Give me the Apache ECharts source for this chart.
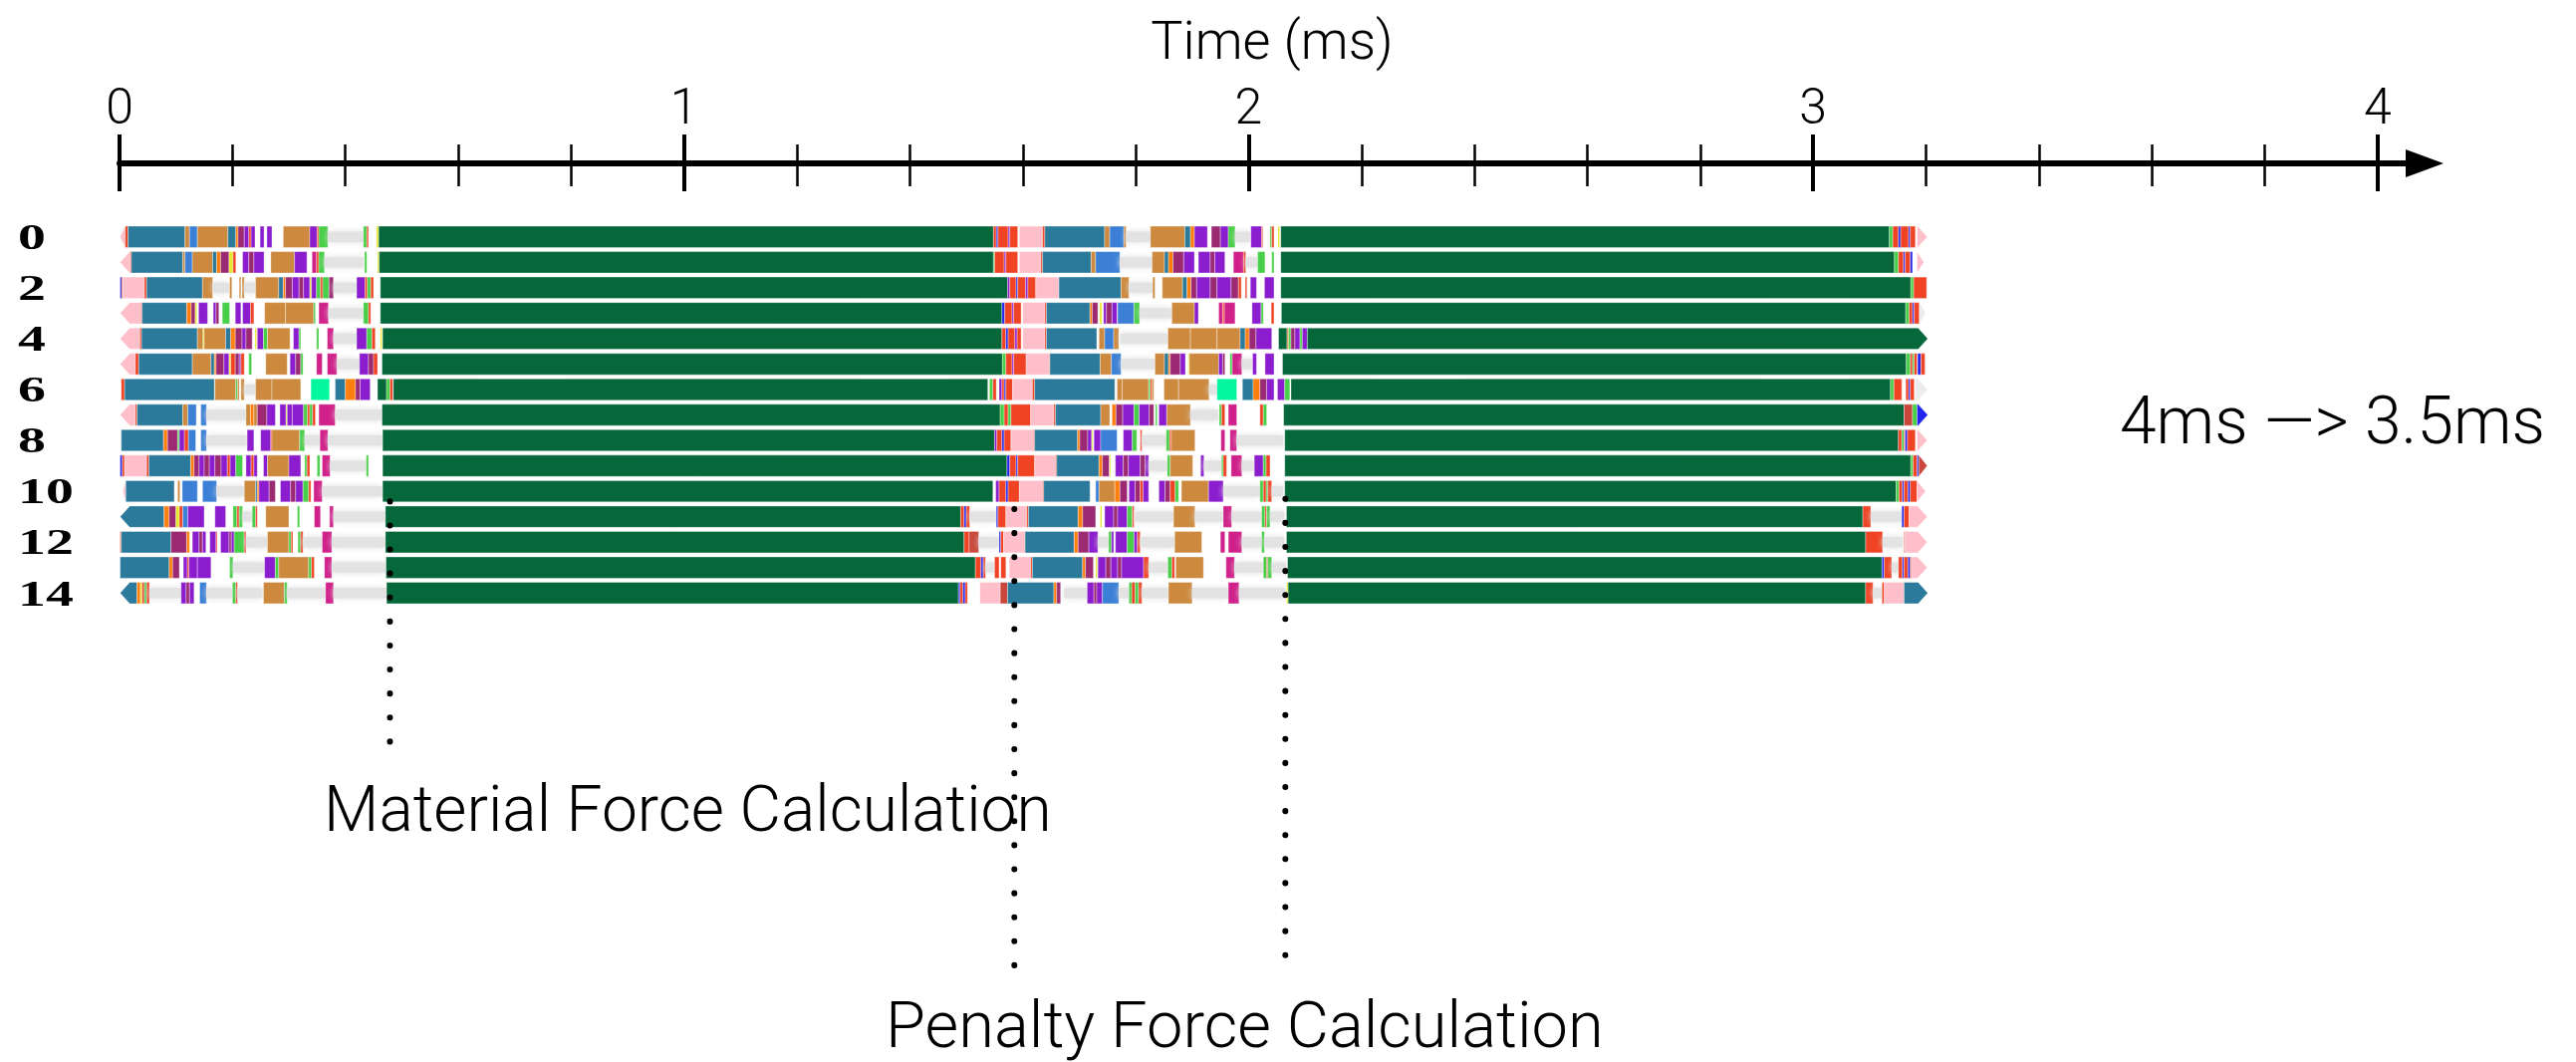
<!DOCTYPE html>
<html>
<head>
<meta charset="utf-8">
<script src="https://cdn.jsdelivr.net/npm/echarts@6.0.0/dist/echarts.min.js"></script>
<style>
  html, body { margin: 0; padding: 0; background: #fff; }
  #chart { width: 2586px; height: 1066px; }
</style>
</head>
<body>
<div id="chart"></div>
<script>
// trace of 15 threads, one array per thread: [start ms, end ms, kind]
// kinds: G main task, S steelblue, T tan, P purple, M plum, K pink, R red, L light blue,
// E lime, O orange, Y yellow, B blue, N mint, A magenta, D dark red, I idle, H faded
const row0 = [[0.001,0.010,'K'],[0.010,0.015,'R'],[0.015,0.116,'S'],[0.116,0.124,'T'],[0.124,0.138,'L'],[0.138,0.192,'T'],[0.192,0.206,'S'],[0.206,0.210,'O'],[0.210,0.221,'M'],[0.221,0.229,'P'],[0.229,0.233,'R'],[0.233,0.240,'P'],[0.249,0.256,'P'],[0.261,0.270,'P'],[0.290,0.337,'T'],[0.337,0.350,'P'],[0.350,0.353,'R'],[0.353,0.369,'E'],[0.369,0.432,'I'],[0.432,0.438,'E'],[0.438,0.441,'R'],[0.455,0.459,'Y'],[0.459,1.548,'G'],[1.548,1.553,'R'],[1.553,1.556,'B'],[1.556,1.574,'R'],[1.574,1.577,'P'],[1.577,1.591,'R'],[1.594,1.635,'K'],[1.635,1.639,'R'],[1.639,1.745,'S'],[1.745,1.754,'T'],[1.754,1.779,'L'],[1.779,1.783,'T'],[1.783,1.826,'I'],[1.826,1.887,'T'],[1.887,1.897,'S'],[1.897,1.904,'O'],[1.904,1.927,'P'],[1.934,1.950,'M'],[1.950,1.964,'P'],[1.964,1.976,'E'],[1.976,2.002,'I'],[2.004,2.023,'P'],[2.023,2.025,'R'],[2.038,2.041,'E'],[2.041,2.045,'R'],[2.052,2.055,'Y'],[2.057,3.135,'G'],[3.135,3.141,'E'],[3.141,3.151,'R'],[3.151,3.155,'B'],[3.155,3.169,'R'],[3.169,3.172,'B'],[3.172,3.181,'R'],[3.184,3.202,'K']];
const row1 = [[0.001,0.019,'K'],[0.019,0.021,'R'],[0.021,0.112,'S'],[0.112,0.116,'T'],[0.116,0.129,'L'],[0.129,0.165,'T'],[0.165,0.172,'S'],[0.172,0.179,'O'],[0.179,0.194,'M'],[0.194,0.201,'Y'],[0.201,0.206,'R'],[0.218,0.229,'P'],[0.229,0.238,'M'],[0.238,0.256,'P'],[0.268,0.310,'T'],[0.310,0.332,'P'],[0.341,0.349,'A'],[0.349,0.353,'R'],[0.353,0.363,'E'],[0.363,0.432,'I'],[0.434,0.438,'E'],[0.457,0.460,'Y'],[0.460,1.548,'G'],[1.548,1.550,'E'],[1.550,1.567,'R'],[1.567,1.570,'P'],[1.570,1.591,'R'],[1.594,1.632,'K'],[1.632,1.635,'R'],[1.635,1.721,'S'],[1.721,1.729,'T'],[1.729,1.772,'L'],[1.772,1.829,'I'],[1.829,1.851,'T'],[1.851,1.858,'S'],[1.858,1.866,'O'],[1.866,1.885,'M'],[1.885,1.904,'P'],[1.911,1.932,'P'],[1.932,1.940,'M'],[1.940,1.958,'P'],[1.973,1.991,'A'],[1.991,1.995,'R'],[1.995,2.016,'I'],[2.016,2.029,'E'],[2.041,2.045,'E'],[2.057,3.144,'G'],[3.144,3.151,'E'],[3.151,3.160,'R'],[3.160,3.163,'B'],[3.163,3.172,'R'],[3.172,3.176,'B'],[3.184,3.196,'K']];
const row2 = [[0.001,0.004,'B'],[0.004,0.006,'R'],[0.006,0.044,'K'],[0.044,0.048,'R'],[0.048,0.147,'S'],[0.147,0.165,'T'],[0.165,0.194,'I'],[0.195,0.199,'T'],[0.212,0.215,'T'],[0.217,0.221,'T'],[0.221,0.241,'I'],[0.241,0.282,'T'],[0.282,0.290,'S'],[0.290,0.294,'O'],[0.294,0.306,'M'],[0.306,0.318,'P'],[0.318,0.326,'M'],[0.326,0.337,'P'],[0.337,0.340,'Y'],[0.340,0.349,'P'],[0.349,0.356,'E'],[0.356,0.360,'R'],[0.360,0.371,'E'],[0.371,0.379,'M'],[0.379,0.420,'I'],[0.420,0.435,'P'],[0.435,0.439,'R'],[0.439,0.445,'E'],[0.445,0.450,'R'],[0.462,1.573,'G'],[1.573,1.577,'P'],[1.577,1.588,'R'],[1.588,1.591,'B'],[1.591,1.605,'R'],[1.605,1.609,'P'],[1.609,1.623,'R'],[1.623,1.664,'K'],[1.664,1.774,'S'],[1.774,1.788,'T'],[1.788,1.830,'I'],[1.830,1.834,'T'],[1.847,1.883,'T'],[1.883,1.891,'S'],[1.891,1.898,'O'],[1.898,1.908,'M'],[1.908,1.932,'P'],[1.932,1.944,'M'],[1.944,1.969,'P'],[1.969,1.982,'M'],[1.982,1.987,'R'],[1.994,1.997,'R'],[2.003,2.014,'P'],[2.028,2.045,'P'],[2.057,3.173,'G'],[3.173,3.178,'E'],[3.178,3.201,'R']];
const row3 = [[0.001,0.038,'K'],[0.038,0.040,'R'],[0.040,0.119,'S'],[0.119,0.127,'O'],[0.127,0.134,'M'],[0.134,0.137,'Y'],[0.140,0.156,'P'],[0.166,0.171,'P'],[0.171,0.176,'M'],[0.182,0.195,'E'],[0.205,0.215,'P'],[0.218,0.232,'P'],[0.232,0.238,'R'],[0.257,0.294,'T'],[0.294,0.344,'T'],[0.344,0.347,'E'],[0.353,0.370,'A'],[0.370,0.432,'I'],[0.432,0.441,'E'],[0.441,0.445,'R'],[0.462,1.563,'G'],[1.563,1.568,'B'],[1.568,1.581,'R'],[1.581,1.584,'P'],[1.584,1.597,'R'],[1.600,1.639,'K'],[1.639,1.642,'R'],[1.642,1.719,'S'],[1.719,1.723,'O'],[1.723,1.733,'M'],[1.736,1.740,'Y'],[1.743,1.748,'P'],[1.748,1.758,'M'],[1.758,1.767,'P'],[1.768,1.797,'L'],[1.797,1.807,'E'],[1.807,1.864,'I'],[1.864,1.904,'T'],[1.904,1.911,'P'],[1.947,1.954,'A'],[1.954,1.957,'R'],[1.957,1.976,'A'],[2.006,2.022,'P'],[2.022,2.026,'E'],[2.040,2.045,'R'],[2.058,3.164,'G'],[3.164,3.170,'E'],[3.170,3.176,'R'],[3.176,3.179,'B'],[3.179,3.188,'R'],[3.188,3.199,'H']];
const row4 = [[0.001,0.036,'K'],[0.036,0.039,'R'],[0.039,0.138,'S'],[0.138,0.148,'T'],[0.148,0.150,'Y'],[0.150,0.188,'T'],[0.188,0.197,'S'],[0.197,0.205,'O'],[0.205,0.217,'M'],[0.217,0.224,'P'],[0.224,0.235,'M'],[0.240,0.243,'Y'],[0.244,0.255,'P'],[0.255,0.262,'E'],[0.262,0.302,'T'],[0.308,0.318,'P'],[0.318,0.321,'E'],[0.349,0.353,'E'],[0.368,0.379,'A'],[0.379,0.420,'I'],[0.420,0.438,'P'],[0.438,0.447,'E'],[0.447,0.453,'R'],[0.462,0.465,'Y'],[0.466,1.563,'G'],[1.563,1.570,'R'],[1.570,1.574,'B'],[1.574,1.586,'R'],[1.586,1.590,'P'],[1.590,1.597,'R'],[1.600,1.639,'K'],[1.639,1.642,'R'],[1.642,1.731,'S'],[1.735,1.745,'T'],[1.745,1.761,'L'],[1.761,1.770,'T'],[1.773,1.857,'I'],[1.857,1.897,'T'],[1.897,1.944,'T'],[1.944,1.985,'T'],[1.985,1.994,'S'],[1.994,2.001,'O'],[2.001,2.013,'M'],[2.013,2.041,'P'],[2.053,2.068,'G'],[2.068,2.071,'T'],[2.071,2.075,'E'],[2.075,2.082,'M'],[2.082,2.091,'P'],[2.091,2.095,'E'],[2.095,2.104,'P'],[2.104,3.203,'G']];
const row5 = [[0.001,0.028,'K'],[0.028,0.034,'R'],[0.034,0.129,'S'],[0.129,0.162,'T'],[0.162,0.168,'S'],[0.168,0.171,'O'],[0.171,0.185,'M'],[0.185,0.194,'P'],[0.194,0.197,'Y'],[0.197,0.205,'R'],[0.205,0.212,'M'],[0.212,0.215,'P'],[0.215,0.221,'R'],[0.229,0.234,'E'],[0.259,0.297,'T'],[0.302,0.312,'P'],[0.312,0.321,'M'],[0.321,0.325,'E'],[0.349,0.359,'A'],[0.368,0.385,'A'],[0.385,0.425,'I'],[0.425,0.441,'P'],[0.441,0.450,'M'],[0.450,0.457,'R'],[0.465,1.564,'G'],[1.564,1.570,'E'],[1.570,1.581,'R'],[1.581,1.584,'P'],[1.584,1.606,'R'],[1.606,1.647,'K'],[1.647,1.648,'R'],[1.648,1.737,'S'],[1.737,1.757,'T'],[1.757,1.774,'L'],[1.774,1.834,'I'],[1.834,1.851,'T'],[1.851,1.858,'S'],[1.858,1.861,'O'],[1.861,1.879,'M'],[1.879,1.888,'P'],[1.893,1.895,'Y'],[1.895,1.947,'T'],[1.947,1.954,'P'],[1.954,1.958,'M'],[1.967,1.971,'E'],[1.971,1.988,'A'],[1.988,2.006,'I'],[2.007,2.014,'P'],[2.029,2.045,'P'],[2.060,3.165,'G'],[3.165,3.172,'E'],[3.172,3.176,'R'],[3.176,3.179,'E'],[3.179,3.184,'R'],[3.185,3.191,'B'],[3.191,3.198,'R']];
const row6 = [[0.003,0.009,'R'],[0.009,0.168,'S'],[0.169,0.206,'T'],[0.206,0.209,'E'],[0.209,0.212,'T'],[0.215,0.221,'T'],[0.221,0.241,'I'],[0.241,0.270,'T'],[0.270,0.321,'T'],[0.339,0.372,'N'],[0.382,0.400,'S'],[0.400,0.418,'O'],[0.418,0.426,'M'],[0.426,0.444,'P'],[0.457,0.473,'G'],[0.473,0.479,'E'],[0.479,0.484,'R'],[0.485,1.538,'G'],[1.541,1.547,'E'],[1.547,1.553,'R'],[1.558,1.563,'P'],[1.563,1.567,'R'],[1.567,1.570,'B'],[1.570,1.582,'R'],[1.582,1.617,'K'],[1.617,1.621,'R'],[1.621,1.763,'S'],[1.767,1.776,'T'],[1.776,1.823,'T'],[1.823,1.826,'E'],[1.826,1.829,'R'],[1.829,1.832,'T'],[1.850,1.876,'T'],[1.876,1.930,'T'],[1.930,1.944,'I'],[1.944,1.979,'N'],[1.989,2.008,'S'],[2.008,2.020,'O'],[2.020,2.032,'M'],[2.032,2.045,'P'],[2.051,2.064,'P'],[2.064,2.073,'E'],[2.075,3.137,'G'],[3.137,3.143,'E'],[3.143,3.157,'R'],[3.164,3.169,'R'],[3.169,3.172,'B'],[3.172,3.179,'R'],[3.181,3.202,'H']];
const row7 = [[0.001,0.028,'K'],[0.028,0.031,'R'],[0.031,0.112,'S'],[0.112,0.121,'T'],[0.121,0.136,'L'],[0.144,0.154,'L'],[0.154,0.224,'I'],[0.224,0.232,'T'],[0.232,0.238,'O'],[0.238,0.244,'T'],[0.244,0.261,'M'],[0.261,0.276,'P'],[0.284,0.295,'P'],[0.295,0.297,'Y'],[0.297,0.306,'P'],[0.306,0.326,'P'],[0.326,0.333,'E'],[0.333,0.337,'R'],[0.337,0.342,'E'],[0.342,0.347,'R'],[0.353,0.382,'A'],[0.382,0.465,'I'],[0.465,1.560,'G'],[1.560,1.567,'E'],[1.567,1.574,'R'],[1.574,1.579,'E'],[1.579,1.614,'R'],[1.614,1.655,'K'],[1.655,1.658,'R'],[1.658,1.738,'S'],[1.738,1.754,'T'],[1.758,1.765,'O'],[1.765,1.777,'M'],[1.777,1.797,'P'],[1.797,1.806,'E'],[1.806,1.824,'P'],[1.824,1.832,'M'],[1.835,1.838,'E'],[1.841,1.855,'P'],[1.855,1.897,'T'],[1.897,1.946,'I'],[1.948,1.952,'E'],[1.952,1.958,'R'],[1.964,1.979,'A'],[2.020,2.026,'R'],[2.026,2.032,'E'],[2.062,3.161,'G'],[3.161,3.176,'D'],[3.176,3.184,'E'],[3.184,3.203,'B']];
const row8 = [[0.003,0.078,'S'],[0.078,0.085,'O'],[0.085,0.103,'M'],[0.103,0.106,'E'],[0.106,0.115,'P'],[0.115,0.122,'R'],[0.122,0.135,'L'],[0.144,0.154,'L'],[0.154,0.226,'I'],[0.226,0.238,'P'],[0.250,0.268,'P'],[0.268,0.270,'R'],[0.270,0.319,'T'],[0.319,0.328,'E'],[0.328,0.355,'I'],[0.355,0.369,'A'],[0.369,0.466,'I'],[0.466,1.550,'G'],[1.550,1.554,'P'],[1.554,1.563,'R'],[1.563,1.567,'B'],[1.567,1.579,'R'],[1.579,1.619,'K'],[1.619,1.621,'R'],[1.621,1.697,'S'],[1.697,1.701,'O'],[1.701,1.715,'M'],[1.715,1.722,'P'],[1.722,1.724,'Y'],[1.726,1.738,'P'],[1.738,1.767,'L'],[1.778,1.794,'P'],[1.794,1.802,'E'],[1.808,1.811,'R'],[1.811,1.854,'I'],[1.854,1.860,'E'],[1.860,1.863,'R'],[1.863,1.905,'T'],[1.951,1.958,'A'],[1.967,1.979,'A'],[1.979,2.061,'I'],[2.064,3.151,'G'],[3.151,3.157,'R'],[3.157,3.161,'E'],[3.161,3.163,'R'],[3.163,3.167,'B'],[3.167,3.181,'R'],[3.184,3.202,'K']];
const row9 = [[0.001,0.005,'B'],[0.005,0.009,'R'],[0.009,0.048,'K'],[0.048,0.052,'R'],[0.052,0.126,'S'],[0.126,0.132,'O'],[0.132,0.141,'M'],[0.141,0.150,'P'],[0.150,0.159,'M'],[0.159,0.169,'P'],[0.169,0.180,'M'],[0.180,0.191,'P'],[0.191,0.196,'R'],[0.196,0.206,'P'],[0.206,0.218,'E'],[0.224,0.233,'P'],[0.233,0.238,'R'],[0.238,0.244,'P'],[0.255,0.262,'P'],[0.262,0.300,'T'],[0.300,0.321,'P'],[0.328,0.332,'E'],[0.332,0.337,'R'],[0.350,0.355,'E'],[0.359,0.373,'A'],[0.373,0.437,'I'],[0.437,0.441,'E'],[0.466,1.572,'G'],[1.572,1.577,'B'],[1.577,1.588,'R'],[1.588,1.591,'B'],[1.591,1.621,'R'],[1.621,1.658,'K'],[1.658,1.660,'R'],[1.660,1.735,'S'],[1.735,1.741,'O'],[1.741,1.753,'M'],[1.754,1.756,'Y'],[1.764,1.778,'P'],[1.778,1.787,'M'],[1.787,1.808,'P'],[1.808,1.817,'M'],[1.817,1.823,'P'],[1.823,1.856,'I'],[1.856,1.861,'E'],[1.861,1.901,'T'],[1.915,1.921,'P'],[1.921,1.952,'I'],[1.952,1.955,'E'],[1.955,1.961,'R'],[1.969,1.988,'A'],[1.988,2.010,'I'],[2.010,2.026,'P'],[2.026,2.031,'E'],[2.031,2.038,'R'],[2.064,3.173,'G'],[3.173,3.177,'E'],[3.177,3.184,'R'],[3.184,3.187,'B'],[3.187,3.202,'D']];
const row10 = [[0.006,0.011,'K'],[0.011,0.097,'S'],[0.103,0.107,'T'],[0.111,0.138,'L'],[0.147,0.172,'L'],[0.172,0.221,'I'],[0.221,0.241,'T'],[0.241,0.244,'S'],[0.244,0.247,'O'],[0.247,0.265,'P'],[0.265,0.276,'M'],[0.285,0.303,'P'],[0.303,0.312,'M'],[0.312,0.325,'P'],[0.325,0.335,'E'],[0.335,0.339,'R'],[0.344,0.359,'A'],[0.359,0.466,'I'],[0.466,1.547,'G'],[1.552,1.558,'P'],[1.558,1.570,'R'],[1.570,1.574,'B'],[1.574,1.594,'R'],[1.594,1.635,'K'],[1.635,1.637,'R'],[1.637,1.719,'S'],[1.729,1.735,'L'],[1.735,1.763,'T'],[1.763,1.772,'O'],[1.772,1.785,'M'],[1.788,1.799,'P'],[1.799,1.808,'M'],[1.808,1.813,'R'],[1.813,1.823,'P'],[1.841,1.852,'P'],[1.852,1.861,'M'],[1.861,1.870,'R'],[1.870,1.876,'E'],[1.881,1.929,'T'],[1.929,1.955,'P'],[1.955,2.020,'I'],[2.020,2.026,'E'],[2.026,2.031,'R'],[2.031,2.034,'E'],[2.034,2.041,'R'],[2.041,2.061,'I'],[2.064,3.147,'G'],[3.147,3.152,'E'],[3.152,3.158,'R'],[3.158,3.161,'B'],[3.161,3.168,'R'],[3.168,3.172,'B'],[3.172,3.184,'R'],[3.184,3.199,'K']];
const row11 = [[0.001,0.079,'S'],[0.079,0.088,'O'],[0.088,0.100,'M'],[0.100,0.106,'Y'],[0.106,0.112,'R'],[0.112,0.121,'L'],[0.121,0.150,'P'],[0.169,0.188,'P'],[0.201,0.208,'E'],[0.208,0.212,'R'],[0.212,0.218,'E'],[0.218,0.235,'I'],[0.235,0.241,'E'],[0.241,0.244,'R'],[0.259,0.300,'T'],[0.315,0.319,'E'],[0.345,0.356,'A'],[0.372,0.379,'A'],[0.379,0.471,'I'],[0.471,1.490,'G'],[1.490,1.496,'R'],[1.496,1.500,'B'],[1.500,1.506,'R'],[1.506,1.553,'I'],[1.553,1.556,'B'],[1.556,1.570,'R'],[1.570,1.607,'K'],[1.607,1.610,'R'],[1.610,1.698,'S'],[1.698,1.706,'O'],[1.706,1.729,'M'],[1.737,1.740,'Y'],[1.745,1.761,'P'],[1.761,1.768,'M'],[1.768,1.785,'P'],[1.785,1.794,'E'],[1.794,1.797,'R'],[1.799,1.867,'I'],[1.867,1.905,'T'],[1.905,1.955,'I'],[1.955,1.970,'A'],[1.970,2.023,'I'],[2.023,2.029,'E'],[2.029,2.032,'R'],[2.032,2.038,'E'],[2.038,2.063,'I'],[2.067,3.088,'G'],[3.088,3.102,'R'],[3.102,3.157,'I'],[3.157,3.161,'B'],[3.161,3.170,'R'],[3.170,3.202,'K']];
const row12 = [[0.001,0.003,'R'],[0.003,0.091,'S'],[0.091,0.119,'M'],[0.119,0.124,'O'],[0.129,0.141,'P'],[0.141,0.147,'M'],[0.147,0.153,'P'],[0.160,0.171,'P'],[0.171,0.173,'R'],[0.179,0.194,'P'],[0.194,0.198,'M'],[0.198,0.203,'P'],[0.203,0.221,'E'],[0.221,0.224,'R'],[0.224,0.262,'I'],[0.262,0.300,'T'],[0.300,0.304,'E'],[0.304,0.307,'R'],[0.316,0.321,'E'],[0.321,0.325,'R'],[0.325,0.359,'I'],[0.359,0.376,'A'],[0.376,0.471,'I'],[0.471,1.496,'G'],[1.496,1.505,'R'],[1.505,1.522,'D'],[1.522,1.558,'I'],[1.558,1.561,'B'],[1.561,1.566,'R'],[1.566,1.603,'K'],[1.603,1.604,'R'],[1.604,1.691,'S'],[1.691,1.698,'O'],[1.698,1.717,'M'],[1.717,1.733,'P'],[1.733,1.752,'I'],[1.752,1.757,'E'],[1.757,1.761,'P'],[1.764,1.785,'P'],[1.785,1.797,'E'],[1.797,1.803,'P'],[1.803,1.808,'R'],[1.808,1.869,'I'],[1.869,1.917,'T'],[1.950,1.958,'A'],[1.964,1.988,'A'],[1.988,2.023,'I'],[2.023,2.028,'E'],[2.028,2.063,'I'],[2.067,3.093,'G'],[3.093,3.123,'R'],[3.123,3.158,'I'],[3.161,3.163,'R'],[3.163,3.202,'K']];
const row13 = [[0.001,0.088,'S'],[0.088,0.094,'O'],[0.094,0.106,'M'],[0.113,0.120,'P'],[0.120,0.123,'R'],[0.123,0.138,'P'],[0.138,0.162,'P'],[0.195,0.201,'E'],[0.201,0.257,'I'],[0.257,0.276,'P'],[0.276,0.282,'E'],[0.282,0.335,'T'],[0.335,0.340,'E'],[0.340,0.345,'R'],[0.363,0.376,'A'],[0.376,0.471,'I'],[0.472,1.516,'G'],[1.516,1.526,'R'],[1.526,1.530,'B'],[1.530,1.534,'R'],[1.534,1.550,'I'],[1.550,1.558,'R'],[1.561,1.570,'R'],[1.576,1.614,'K'],[1.614,1.617,'R'],[1.617,1.706,'S'],[1.706,1.711,'O'],[1.711,1.725,'M'],[1.729,1.732,'Y'],[1.733,1.747,'P'],[1.747,1.756,'M'],[1.756,1.768,'P'],[1.768,1.775,'M'],[1.775,1.814,'P'],[1.814,1.823,'R'],[1.823,1.857,'I'],[1.857,1.864,'E'],[1.864,1.869,'R'],[1.871,1.920,'T'],[1.960,1.975,'A'],[1.975,2.026,'I'],[2.026,2.032,'E'],[2.032,2.034,'R'],[2.034,2.041,'E'],[2.041,2.066,'I'],[2.069,3.122,'G'],[3.122,3.126,'B'],[3.126,3.139,'R'],[3.139,3.151,'I'],[3.151,3.158,'R'],[3.158,3.161,'B'],[3.161,3.168,'R'],[3.168,3.172,'B'],[3.172,3.174,'R'],[3.174,3.202,'K']];
const row14 = [[0.001,0.031,'S'],[0.031,0.037,'O'],[0.037,0.040,'Y'],[0.040,0.044,'R'],[0.044,0.048,'E'],[0.048,0.053,'R'],[0.053,0.109,'I'],[0.109,0.118,'P'],[0.118,0.124,'M'],[0.124,0.132,'P'],[0.142,0.154,'L'],[0.154,0.200,'I'],[0.200,0.206,'E'],[0.206,0.209,'R'],[0.209,0.253,'I'],[0.255,0.292,'T'],[0.292,0.297,'E'],[0.297,0.365,'I'],[0.365,0.379,'A'],[0.379,0.473,'I'],[0.473,1.486,'G'],[1.486,1.489,'B'],[1.489,1.494,'R'],[1.494,1.498,'B'],[1.498,1.502,'R'],[1.524,1.560,'K'],[1.560,1.573,'D'],[1.573,1.655,'S'],[1.655,1.660,'O'],[1.660,1.667,'M'],[1.673,1.714,'I'],[1.714,1.726,'P'],[1.726,1.731,'M'],[1.731,1.741,'P'],[1.741,1.770,'L'],[1.770,1.788,'I'],[1.788,1.793,'E'],[1.793,1.799,'R'],[1.799,1.805,'E'],[1.805,1.811,'R'],[1.811,1.858,'I'],[1.858,1.900,'T'],[1.900,1.964,'I'],[1.964,1.983,'A'],[1.983,2.064,'I'],[2.067,2.070,'Y'],[2.070,3.093,'G'],[3.093,3.106,'R'],[3.106,3.122,'I'],[3.122,3.126,'R'],[3.126,3.161,'K'],[3.161,3.203,'S']];

const rows = [row0, row1, row2, row3, row4, row5, row6, row7, row8, row9, row10, row11, row12, row13, row14];
const rowNames = rows.map((_, i) => String(i));

// rows whose first / last interval continues outside the capture (drawn as a pointed cap)
const leftCapRows = [0, 1, 3, 4, 5, 7, 10, 11, 14];
const rightCapRows = [0, 1, 3, 4, 6, 7, 8, 9, 10, 11, 12, 13, 14];

const majorTicks = [0, 1, 2, 3, 4];
const minorTicks = [0.2, 0.4, 0.6, 0.8, 1.2, 1.4, 1.6, 1.8, 2.2, 2.4, 2.6, 2.8, 3.2, 3.4, 3.6, 3.8];

// phase markers: time (ms), first row, last row (in row units, running below the threads)
const markTimes = [0.479, 1.585, 2.065];
const markFromRow = [10.4, 10.7, 10.3];
const markToRow = [20.0, 29.5, 29.1];

const KIND_COLORS = {
  G: '#05673a', S: '#2b7a9b', T: '#cd8a3f', P: '#8b1dcf', M: '#9b2a72', K: '#ffbfca',
  R: '#ef4324', L: '#3b80d6', E: '#48cf48', O: '#ff7f0e', Y: '#e6e62a', B: '#2424ee',
  N: '#00f79e', A: '#d0208a', D: '#c9483b', I: '#e3e3e3', H: '#ececec'
};
const KIND_CODES = Object.keys(KIND_COLORS);

const segData = [];
rows.forEach((segs, r) => {
  segs.forEach((s, i) => {
    let cap = 0;
    if (i === 0 && leftCapRows.includes(r)) cap = -1;
    if (i === segs.length - 1 && rightCapRows.includes(r)) cap = 1;
    segData.push([s[0], s[1], r, KIND_CODES.indexOf(s[2]), cap]);
  });
});

const markData = markTimes.map((t, i) => [t, 0, markFromRow[i], markToRow[i]]);
// every other thread gets a number on the left
const labelData = rowNames.map((n, i) => [0, i]).filter((d) => d[1] % 2 === 0);

function renderSegment(params, api) {
  const row = api.value(2);
  const p0 = api.coord([api.value(0), row]);
  const p1 = api.coord([api.value(1), row]);
  const band = api.size([0, 1])[1];
  const h = band * 0.84;
  const code = KIND_CODES[api.value(3)];
  const cap = api.value(4);
  const x0 = p0[0], x1 = p1[0], yc = p0[1];
  const top = yc - h / 2, bot = yc + h / 2;

  if (code === 'I') {
    return {
      type: 'rect',
      shape: { x: x0, y: yc - h * 0.24, width: x1 - x0, height: h * 0.48 },
      style: { fill: KIND_COLORS.I, shadowBlur: 6, shadowColor: '#dddddd' }
    };
  }
  const style = { fill: KIND_COLORS[code], stroke: 'rgba(255,255,255,0.45)', lineWidth: 0.8 };
  const a = Math.min(h * 0.45, x1 - x0);
  let points;
  if (cap === -1) {
    points = [[x0, yc], [x0 + a, top], [x1, top], [x1, bot], [x0 + a, bot]];
  } else if (cap === 1) {
    points = [[x0, top], [x1 - a, top], [x1, yc], [x1 - a, bot], [x0, bot]];
  } else {
    points = [[x0, top], [x1, top], [x1, bot], [x0, bot]];
  }
  if (code === 'H') style.stroke = 'rgba(0,0,0,0)';
  return { type: 'polygon', shape: { points }, style };
}

function renderMark(params, api) {
  const origin = api.coord([api.value(0), 0]);
  const band = api.size([0, 1])[1];
  return {
    type: 'line',
    shape: { x1: origin[0], y1: origin[1] + api.value(2) * band, x2: origin[0], y2: origin[1] + api.value(3) * band },
    style: { stroke: '#000', lineWidth: 6, lineDash: [0.1, 24], lineCap: 'round' }
  };
}

// thread numbers: wide bold serif digits, stretched like the original figure
function renderRowLabel(params, api) {
  const row = api.value(1);
  const y = api.coord([0, row])[1] + 3;
  return {
    type: 'text',
    x: 18, y: y, scaleX: 1.55,
    style: {
      x: 0, y: 0, text: rowNames[row], align: 'left', verticalAlign: 'middle',
      fontFamily: '"Liberation Serif", "Times New Roman", serif', fontWeight: 'bold', fontSize: 36, fill: '#000'
    }
  };
}

const TEXT_FONT = 'Roboto, "Liberation Sans", sans-serif';

const baseX = {
  type: 'value', min: 0, max: 4.083, interval: 1, position: 'top', offset: 61,
  splitLine: { show: false }
};

const chart = echarts.init(document.getElementById('chart'), null, { renderer: 'canvas' });
chart.setOption({
  animation: false,
  backgroundColor: '#fff',
  grid: { left: 120, right: 152, top: 225, bottom: 458, outerBoundsMode: 'none' },
  xAxis: [
    Object.assign({}, baseX, {
      name: 'Time (ms)', nameLocation: 'middle', nameGap: 92,
      nameTextStyle: { fontFamily: TEXT_FONT, fontWeight: 300, fontSize: 54, color: '#000' },
      axisLine: { show: true, symbol: ['none', 'triangle'], symbolSize: [28, 38], lineStyle: { color: '#000', width: 6 } },
      axisTick: { show: true, customValues: majorTicks, length: 29, lineStyle: { color: '#000', width: 4 } },
      axisLabel: { customValues: majorTicks, margin: 28, fontFamily: TEXT_FONT, fontWeight: 300, fontSize: 50, color: '#000' }
    }),
    Object.assign({}, baseX, {
      axisLine: { show: false },
      axisTick: { show: true, inside: true, customValues: majorTicks, length: 28, lineStyle: { color: '#000', width: 4 } },
      axisLabel: { show: false }
    }),
    Object.assign({}, baseX, {
      axisLine: { show: false },
      axisTick: { show: true, customValues: minorTicks, length: 19, lineStyle: { color: '#000', width: 2.5 } },
      axisLabel: { show: false }
    }),
    Object.assign({}, baseX, {
      axisLine: { show: false },
      axisTick: { show: true, inside: true, customValues: minorTicks, length: 23, lineStyle: { color: '#000', width: 2.5 } },
      axisLabel: { show: false }
    })
  ],
  yAxis: {
    type: 'category', data: rowNames, inverse: true,
    axisLine: { show: false }, axisTick: { show: false }, splitLine: { show: false },
    axisLabel: { show: false }
  },
  series: [
    {
      type: 'custom', renderItem: renderSegment, data: segData,
      encode: { x: [0, 1], y: 2 }, clip: false
    },
    {
      type: 'custom', renderItem: renderMark, data: markData,
      encode: { x: 0, y: 1 }, clip: false, z: 5
    },
    {
      type: 'custom', renderItem: renderRowLabel, data: labelData,
      encode: { x: 0, y: 1 }, clip: false, silent: true
    }
  ],
  graphic: [
    { type: 'text', z: 10, style: { x: 325, y: 818, text: 'Material Force Calculation', fontFamily: TEXT_FONT, fontWeight: 300, fontSize: 64, fill: '#000', align: 'left', verticalAlign: 'middle' } },
    { type: 'text', z: 10, style: { x: 889, y: 1035, text: 'Penalty Force Calculation', fontFamily: TEXT_FONT, fontWeight: 300, fontSize: 65, fill: '#000', align: 'left', verticalAlign: 'middle' } },
    { type: 'text', z: 10, style: { x: 2128, y: 428, text: '4ms \u2014> 3.5ms', fontFamily: TEXT_FONT, fontWeight: 300, fontSize: 66, fill: '#000', align: 'left', verticalAlign: 'middle' } }
  ]
});
</script>
</body>
</html>
